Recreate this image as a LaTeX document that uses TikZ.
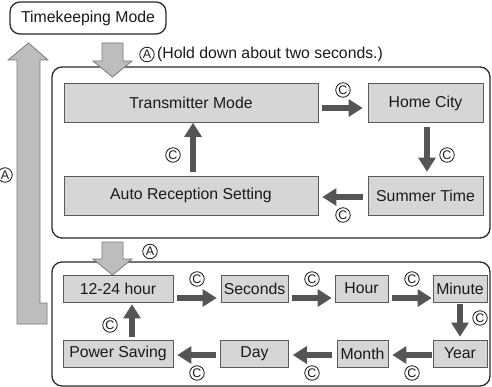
\documentclass[tikz,border=0pt]{standalone}
\usepackage{fontspec}
\setmainfont{Liberation Sans}
\usetikzlibrary{arrows.meta,calc}
\definecolor{boxfill}{HTML}{D6D6D6}
\definecolor{boxline}{HTML}{5A5A5A}
\definecolor{arrowdark}{HTML}{555555}
\definecolor{bigfill}{HTML}{BDBDBD}
\definecolor{bigline}{HTML}{7A7A7A}
\definecolor{frameline}{HTML}{2A2A2A}
\definecolor{txt}{HTML}{1A1A1A}
\begin{document}
\begin{tikzpicture}[x=1pt,y=-1pt,
  every node/.style={font=\fontsize{15.8}{19}\selectfont, text=txt},
  panel/.style={draw=boxline, fill=boxfill, line width=0.9pt, inner sep=0pt, anchor=center},
  frame/.style={draw=frameline, line width=1.3pt, rounded corners=10pt, inner sep=0pt},
  flow/.style={draw=arrowdark, line width=6.5pt, -{Triangle[length=14pt,width=18pt,line width=0pt]}},
  circ/.style={circle, draw=txt, line width=0.8pt, inner sep=0pt, minimum size=14.5pt, font=\fontsize{12.5}{12.5}\selectfont},
  bigarrow/.style={draw=bigline, fill=bigfill, line width=0.8pt, line join=miter}]
\useasboundingbox (0,0) rectangle (492,387);

% frames
\node[frame, minimum width=438pt, minimum height=171pt] (upper) at (271,152.5) {};
\node[frame, minimum width=438pt, minimum height=124pt] (lower) at (271,324) {};
\node[frame, fill=white, minimum width=156pt, minimum height=32pt] (tk) at (88,18) {Timekeeping Mode};

% big grey arrows
\coordinate (d1) at (112.5,77);
\coordinate (d2) at (112.5,275);
\draw[bigarrow] (102,43) -- (123,43) -- (123,61) -- (132,61) -- (d1) -- (93,61) -- (102,61) -- cycle;
\draw[bigarrow] (102,242) -- (123,242) -- (123,259) -- (132,259) -- (d2) -- (93,259) -- (102,259) -- cycle;
\coordinate (up) at (28.5,43);
\draw[bigarrow] (17,324) -- (17,60) -- (8,60) -- (up) -- (48,60) -- (40,60) -- (40,303) -- (47,303) -- (47,324) -- cycle;

% labels A
\node[circ] (a1) at (147,54.5) {A};
\node[anchor=west, inner sep=0pt] (hold) at (157,54) {(Hold down about two seconds.)};
\node[circ] (a2) at (150,251.5) {A};
\node[circ] (a3) at (5,175) {A};

% upper boxes
\node[panel, minimum width=254pt, minimum height=39pt] (trans) at (191,103) {Transmitter Mode};
\node[panel, minimum width=115pt, minimum height=39pt] (home) at (425.5,103) {Home City};
\node[panel, minimum width=115pt, minimum height=39pt] (summer) at (425.5,195.5) {Summer Time};
\node[panel, minimum width=254pt, minimum height=39pt] (auto) at (191,195.5) {Auto Reception Setting};

% lower boxes
\node[panel, minimum width=110pt, minimum height=27pt] (h1224) at (118,288.5) {12-24 hour};
\node[panel, minimum width=67pt, minimum height=27pt] (sec) at (254.5,288.5) {Seconds};
\node[panel, minimum width=53pt, minimum height=27pt] (hour) at (361.5,288.5) {Hour};
\node[panel, minimum width=54pt, minimum height=27pt] (minute) at (460,288.5) {Minute};
\node[panel, minimum width=54pt, minimum height=27pt] (year) at (460,353.5) {Year};
\node[panel, minimum width=51pt, minimum height=27pt] (month) at (362.5,353.5) {Month};
\node[panel, minimum width=68pt, minimum height=27pt] (day) at (254.5,353.5) {Day};
\node[panel, minimum width=110pt, minimum height=27pt] (power) at (118,353.5) {Power Saving};

% upper connectors
\draw[flow] ($(trans.east)+(4,5)$) -- ($(home.west)+(-5,5)$);
\draw[flow] ($(home.south)+(1.5,4)$) -- ($(summer.north)+(1.5,-4)$);
\draw[flow] ($(summer.west)+(-5,1.5)$) -- ($(auto.east)+(4,1.5)$);
\draw[flow] ($(auto.north)+(2,-4)$) -- ($(trans.south)+(2,0)$);
\node[circ] at (343,90) {C};
\node[circ] at (447,155) {C};
\node[circ] at (343,215) {C};
\node[circ] at (173,155) {C};

% lower connectors
\draw[flow] ($(h1224.east)+(4,9.5)$) -- ($(sec.west)+(-4,9.5)$);
\draw[flow] ($(sec.east)+(4,9.5)$) -- ($(hour.west)+(-3,9.5)$);
\draw[flow] ($(hour.east)+(4,9.5)$) -- ($(minute.west)+(-1,9.5)$);
\draw[flow] ($(minute.south)+(0,2)$) -- ($(year.north)+(0,-3)$);
\draw[flow] ($(year.west)+(-1,1.5)$) -- ($(month.east)+(4,1.5)$);
\draw[flow] ($(month.west)+(-5,1.5)$) -- ($(day.east)+(4,1.5)$);
\draw[flow] ($(day.west)+(-4,1.5)$) -- ($(power.east)+(4,1.5)$);
\draw[flow] ($(power.north)+(14,-3)$) -- ($(h1224.south)+(14,2)$);
\node[circ] at (197,279) {C};
\node[circ] at (312,279) {C};
\node[circ] at (412,279) {C};
\node[circ] at (480,318) {C};
\node[circ] at (412,373) {C};
\node[circ] at (312,373) {C};
\node[circ] at (197,373) {C};
\node[circ] at (110,325) {C};
\end{tikzpicture}
\end{document}
